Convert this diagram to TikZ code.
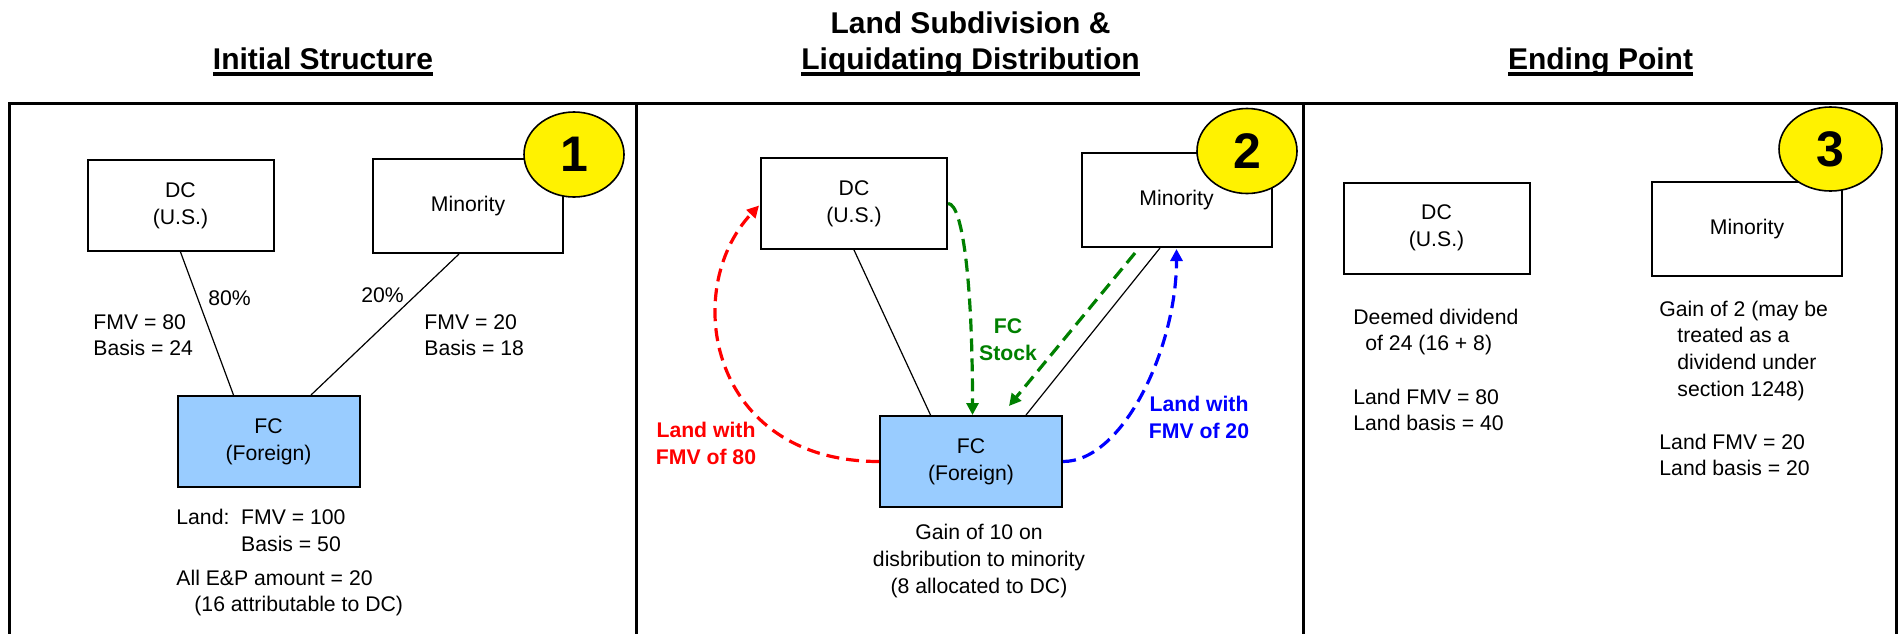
\documentclass[tikz,border=0pt]{standalone}
\usepackage{fontspec}
\setmainfont{Liberation Sans}
\usetikzlibrary{arrows.meta}
\usetikzlibrary{calc}
\usetikzlibrary{shapes.geometric}

\definecolor{fcblue}{HTML}{99CCFF}
\definecolor{fcgreen}{HTML}{008000}

\newcommand{\ulhead}[1]{\setbox0\hbox{#1}\rlap{\rule[-2.9pt]{\wd0}{1.6pt}}\box0}

\begin{document}
\begin{tikzpicture}
	[
	x=0.5pt, y=-0.5pt,
	> = {Triangle[length=6pt,width=6pt]},
	every node/.style = {font=\fontsize{10.6}{13.3}\selectfont, inner sep=0pt},
	entity/.style = {draw, line width=1pt, minimum width=93pt, minimum height=45.5pt, align=center},
	minority/.style = {entity, minimum width=95pt, minimum height=47pt},
	foreign/.style = {entity, fill=fcblue, minimum width=91pt},
	stepmark/.style = {draw, line width=0.8pt, fill=yellow, ellipse, minimum width=50pt, minimum height=42.5pt, font=\fontsize{25}{30}\selectfont\bfseries},
	heading/.style = {font=\fontsize{15}{18}\selectfont\bfseries, anchor=base},
	note/.style = {align=left, anchor=west},
	own/.style = {line width=0.6pt},
	flow/.style = {->, dash pattern=on 6.5pt off 3.5pt, line width=1.6pt},
	flowlabel/.style = {font=\fontsize{10.6}{13.6}\selectfont\bfseries, align=center}
	]
	\useasboundingbox (0,0) rectangle (1898,633);

	% frame and panels
	\draw[line width=1.5pt] (9.5,645) -- (9.5,103) -- (1896,103) -- (1896,645);
	\draw[line width=1.5pt] (636,103) -- (636,645);
	\draw[line width=1.5pt] (1303,103) -- (1303,645);

	\node[heading] (head1) at (323,69.8) {\ulhead{Initial Structure}};
	\node[heading] (head2a) at (970.5,33) {Land Subdivision \&};
	\node[heading] (head2b) at (970.5,69.8) {\ulhead{Liquidating Distribution}};
	\node[heading] (head3) at (1600.5,69.8) {\ulhead{Ending Point}};

	% panel 1
	\node[entity] (dc1) at (180.5,205.5) {DC\\(U.S.)};
	\node[minority] (min1) at (468,206) {Minority};
	\node[foreign] (fc1) at (268.5,441.5) {FC\\(Foreign)};
	\node[stepmark] (num1) at (574,154.5) {1};
	\draw[own] (dc1.south) -- ($(fc1.north)+(-35,0)$);
	\draw[own] ($(min1.south)+(-9,0)$) -- ($(fc1.north)+(42.5,0)$);
	\node (pct80) at (229.5,298) {80\%};
	\node (pct20) at (382.5,295) {20\%};
	\node[note] (val80) at (93,335) {FMV = 80\\Basis = 24};
	\node[note] (val20) at (424,335) {FMV = 20\\Basis = 18};
	\node[note] (land1) at (176,530.5) {Land:\ \ FMV = 100\\\hphantom{Land:\ \ }Basis = 50};
	\node[note] (ep1) at (176,593) {All E\&P amount = 20\\\hspace*{9pt}(16 attributable to DC)};

	% panel 2
	\node[entity] (dc2) at (854,203.5) {DC\\(U.S.)};
	\node[minority] (min2) at (1176.5,200) {Minority};
	\node[foreign] (fc2) at (971,461.5) {FC\\(Foreign)};
	\node[stepmark] (num2) at (1247,151) {2};
	\draw[own] (dc2.south) -- ($(fc2.north)+(-40.5,0)$);
	\draw[own] ($(min2.south)+(-16.5,0)$) -- ($(fc2.north)+(55,0)$);
	\draw[flow, red] (fc2.west) .. controls ($(fc2.west)+(-170,0)$) and ($(dc2.west)+(-80,86)$) .. ($(dc2.west)+(-1,2)$);
	\draw[flow, fcgreen] (dc2.east) .. controls ($(dc2.east)+(15,0)$) and ($(fc2.north)+(1.5,-130)$) .. ($(fc2.north)+(1.5,0)$);
	\draw[flow, fcgreen] ($(min2.south)+(-41.5,5)$) -- ($(fc2.north)+(38,-9)$);
	\draw[flow, blue] (fc2.east) .. controls ($(fc2.east)+(60,0)$) and ($(min2.south)+(0,100)$) .. ($(min2.south)+(0,1)$);
	\node[flowlabel, fcgreen] (stock) at (1008,340) {FC\\Stock};
	\node[flowlabel, red] (land80) at (706,443.5) {Land with\\FMV of 80};
	\node[flowlabel, blue] (land20) at (1199,417.5) {Land with\\FMV of 20};
	\node[align=center] (gain10) at (979,561) {Gain of 10 on\\disbribution to minority\\(8 allocated to DC)};

	% panel 3
	\node[entity] (dc3) at (1436.5,228) {DC\\(U.S.)};
	\node[minority] (min3) at (1747,229) {Minority};
	\node[stepmark, minimum width=51.5pt, minimum height=42pt] (num3) at (1830.5,149) {3};
	\node[note] (div3) at (1353,370) {Deemed dividend\\\hspace*{6pt}of 24 (16 + 8)\\[13.3pt]Land FMV = 80\\Land basis = 40};
	\node[note] (gain3) at (1659,388.5) {Gain of 2 (may be\\\hspace*{9pt}treated as a\\\hspace*{9pt}dividend under\\\hspace*{9pt}section 1248)\\[13.3pt]Land FMV = 20\\Land basis = 20};
\end{tikzpicture}
\end{document}
